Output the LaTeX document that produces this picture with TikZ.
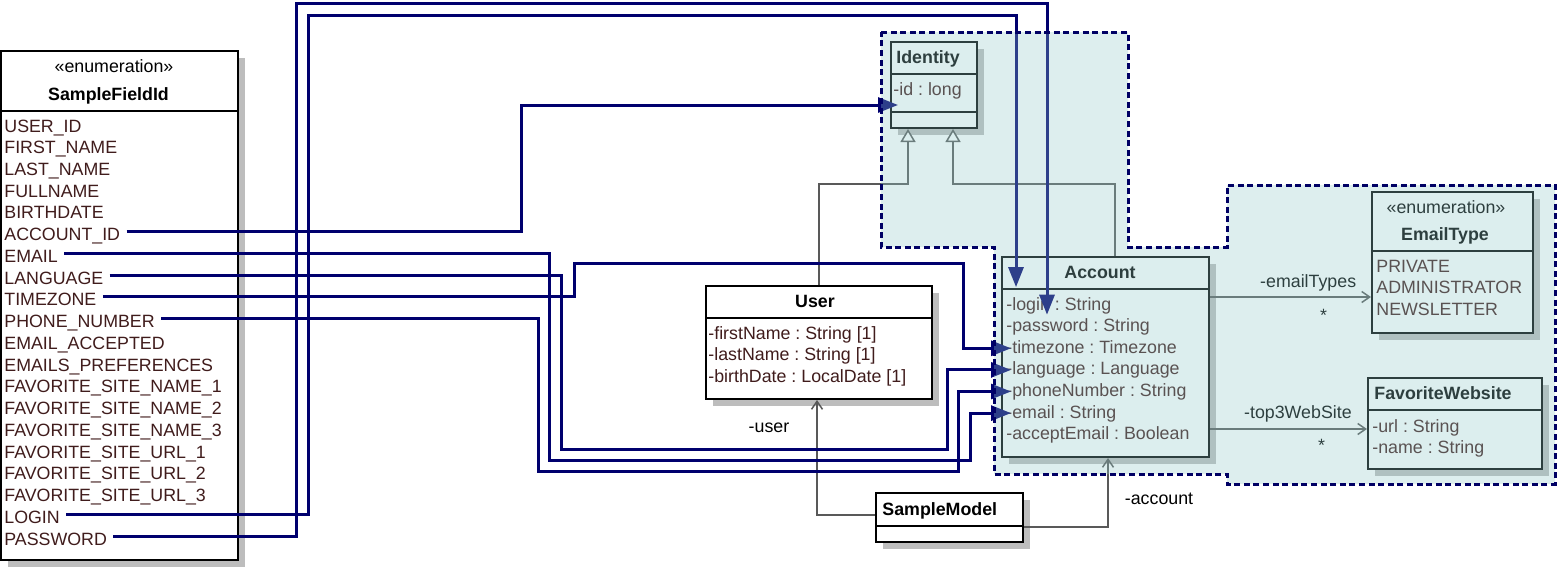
\documentclass[tikz,border=0pt]{standalone}
\usepackage{fontspec}
\setmainfont{Liberation Sans}
\usetikzlibrary{arrows.meta,fit,shadows}
\frenchspacing

\definecolor{linknavy}{RGB}{0,0,110}
\definecolor{pkgnavy}{RGB}{0,0,100}
\definecolor{pkgtint}{RGB}{146,201,201}
\definecolor{attrtext}{RGB}{64,28,28}
\newcommand{\umlfont}{\fontsize{8.9pt}{10pt}\selectfont}

\tikzset{
	umlbox/.style={draw=black, line width=1pt, fill=white, inner sep=0pt,
		drop shadow={shadow xshift=3.5pt, shadow yshift=-3.5pt, fill=black!26, opacity=1}},
	divider/.style={line width=1pt},
	enumrow/.style={anchor=west, inner sep=0pt, text height=10pt, text depth=1pt, text=attrtext},
	attrrow/.style={anchor=west, inner sep=0pt, text height=8pt, text depth=3pt, text=attrtext},
	lbl/.style={inner sep=0pt, text height=8pt, text depth=3pt},
	clstitle/.style={lbl, font=\umlfont\bfseries},
	link/.style={draw=linknavy, line width=1.5pt, shorten <=3pt, -{Triangle[length=10pt,width=7.5pt]}},
	assoc/.style={draw=black!65, line width=0.75pt, -{Straight Barb[length=4pt,width=5.5pt]}},
	gen/.style={draw=black!65, line width=0.75pt, -{Triangle[length=6.5pt,width=7.5pt,fill=white]}},
	pkg/.style={draw=pkgnavy, line width=1.5pt, dash pattern=on 3pt off 1.8pt, fill=pkgtint, fill opacity=0.314}
}

\begin{document}
\begin{tikzpicture}[x=0.5pt, y=-0.5pt, font=\umlfont]
	\useasboundingbox (0,0) rectangle (1558,568);

	% enumeration SampleFieldId
	\node[umlbox, fit={(1,51) (238,560)}] (sfid) {};
	\node[lbl] (sfid-st) at (114,67) {«enumeration»};
	\node[clstitle] (sfid-name) at (108.5,95) {SampleFieldId};
	\draw[divider] (sfid.west |- 0,111) -- (sfid.east |- 0,111);
	\foreach \txt/\nm [count=\i from 0] in {USER\_ID/userid, FIRST\_NAME/firstname, LAST\_NAME/lastname,
		FULLNAME/fullname, BIRTHDATE/birthdate, ACCOUNT\_ID/accountid, EMAIL/email, LANGUAGE/language,
		TIMEZONE/timezone, PHONE\_NUMBER/phone, EMAIL\_ACCEPTED/emailaccepted, EMAILS\_PREFERENCES/prefs,
		FAVORITE\_SITE\_NAME\_1/name1, FAVORITE\_SITE\_NAME\_2/name2, FAVORITE\_SITE\_NAME\_3/name3,
		FAVORITE\_SITE\_URL\_1/url1, FAVORITE\_SITE\_URL\_2/url2, FAVORITE\_SITE\_URL\_3/url3,
		LOGIN/login, PASSWORD/password}
	\node[enumrow] (f-\nm) at (4,{123+21.74*\i}) {\txt};

	% Identity
	\node[umlbox, fit={(891,42) (977,128)}] (ident) {};
	\node[clstitle, anchor=west] (ident-name) at (896,58) {Identity};
	\draw[divider] (ident.west |- 0,74) -- (ident.east |- 0,74);
	\node[attrrow] (ident-id) at (893,90) {-id : long};
	\draw[divider] (ident.west |- 0,112) -- (ident.east |- 0,112);

	% Account
	\node[umlbox, fit={(1002,257) (1209,457)}] (acc) {};
	\node[clstitle] (acc-name) at (1100,273) {Account};
	\draw[divider] (acc.west |- 0,289) -- (acc.east |- 0,289);
	\foreach \txt/\nm [count=\i from 0] in {-login : String/login, -password : String/password,
		-timezone : Timezone/timezone, -language : Language/language, -phoneNumber : String/phone,
		-email : String/email, -acceptEmail : Boolean/accept}
	\node[attrrow] (acc-\nm) at (1006,{305.1+21.6*\i}) {\txt};

	% User
	\node[umlbox, fit={(706,286) (932,399)}] (user) {};
	\node[clstitle] (user-name) at (815,302) {User};
	\draw[divider] (user.west |- 0,318) -- (user.east |- 0,318);
	\node[attrrow] (user-first) at (708,334) {-firstName : String [1]};
	\node[attrrow] (user-last) at (708,355.5) {-lastName : String [1]};
	\node[attrrow] (user-birth) at (708,377) {-birthDate : LocalDate [1]};

	% enumeration EmailType
	\node[umlbox, fit={(1372,192) (1533,333)}] (etype) {};
	\node[lbl] (etype-st) at (1446,208) {«enumeration»};
	\node[clstitle] (etype-name) at (1445,235) {EmailType};
	\draw[divider] (etype.west |- 0,251) -- (etype.east |- 0,251);
	\node[attrrow] (etype-private) at (1376,267) {PRIVATE};
	\node[attrrow] (etype-admin) at (1376,288.5) {ADMINISTRATOR};
	\node[attrrow] (etype-news) at (1376,310) {NEWSLETTER};

	% FavoriteWebsite
	\node[umlbox, fit={(1368,378) (1542,469)}] (fav) {};
	\node[clstitle, anchor=west] (fav-name) at (1374,394) {FavoriteWebsite};
	\draw[divider] (fav.west |- 0,410) -- (fav.east |- 0,410);
	\node[attrrow] (fav-url) at (1372,427) {-url : String};
	\node[attrrow] (fav-nm) at (1372,448) {-name : String};

	% SampleModel
	\node[umlbox, fit={(876,493) (1023,542)}] (smodel) {};
	\node[clstitle, anchor=west] (smodel-name) at (882,510) {SampleModel};
	\draw[divider] (smodel.west |- 0,526) -- (smodel.east |- 0,526);

	% generalization and associations
	\draw[gen] (user.north) |- (908,184) -- (908,184 |- ident.south);
	\draw[gen] (acc.north -| 1115,0) |- (953,184) -- (953,184 |- ident.south);
	\draw[assoc] (acc.east |- 0,297) -- (etype.west |- 0,297)
		node[lbl, pos=0.61, yshift=7.5pt] (lbl-emailtypes) {-emailTypes}
		node[lbl, pos=0.705, yshift=-9.5pt] (lbl-emailmult) {*};
	\draw[assoc] (acc.east |- 0,429) -- (fav.west |- 0,429)
		node[lbl, pos=0.56, yshift=8pt] (lbl-top3) {-top3WebSite}
		node[lbl, pos=0.71, yshift=-8.7pt] (lbl-top3mult) {*};
	\draw[assoc] (smodel.west |- 0,515) -| (user.south -| 817,0)
		node[lbl, pos=0.88, xshift=-24pt] (lbl-user) {-user};
	\draw[assoc] (smodel.east |- 0,527) -| (acc.south -| 1108,0)
		node[lbl, pos=0.7, xshift=25.5pt] (lbl-account) {-account};

	% field links
	\draw[link] (f-accountid.east) -| (521,105) -- ([xshift=4pt]ident.west |- 0,105);
	\draw[link] (f-email.east) -| (549,460) -| ([xshift=-18pt]acc-email.west) -- ([xshift=2.5pt]acc-email.west);
	\draw[link] (f-language.east) -| (561,449) -| ([xshift=-29.5pt]acc-language.west) -- ([xshift=2.5pt]acc-language.west);
	\draw[link] (f-timezone.east) -| (574,263) -| ([xshift=-21.5pt]acc-timezone.west) -- ([xshift=2.5pt]acc-timezone.west);
	\draw[link] (f-phone.east) -| (538,471) -| ([xshift=-24pt]acc-phone.west) -- ([xshift=2.5pt]acc-phone.west);
	\draw[link] (f-login.east) -| (308,15) -| ([shift={(10,-18)}]acc-login.west);
	\draw[link] (f-password.east) -| (296,3) -| ([shift={(41,-12)}]acc-password.west);

	% package area
	\draw[pkg] (881,32) -- (1128,32) -- (1128,247) -- (1227,247) -- (1227,185) -- (1555,185) -- (1555,484)
		-- (1227,484) -- (1227,474) -- (994,474) -- (994,247) -- (881,247) -- cycle;
\end{tikzpicture}
\end{document}
